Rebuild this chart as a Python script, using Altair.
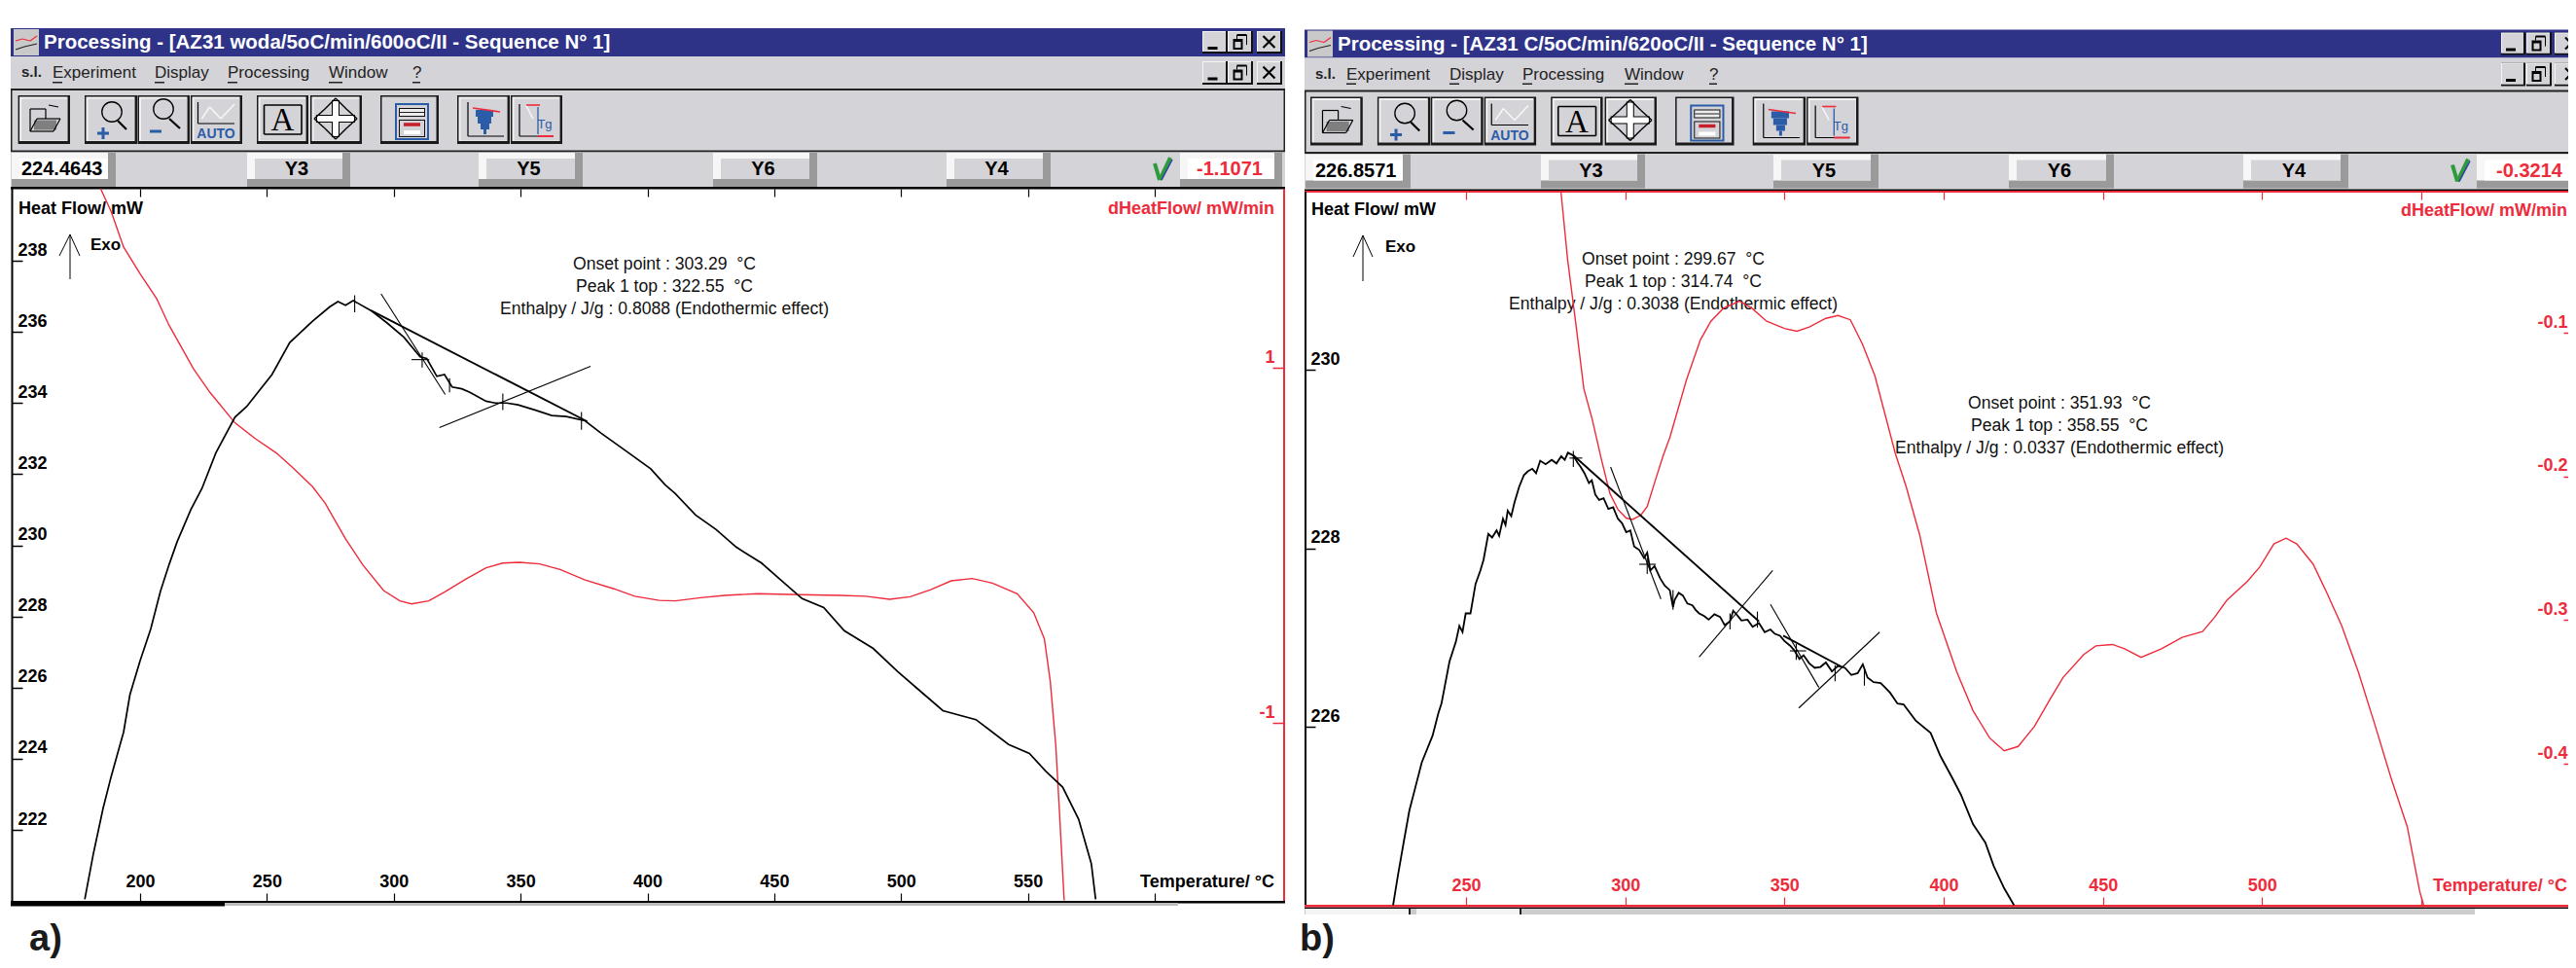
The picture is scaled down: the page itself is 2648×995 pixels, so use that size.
import altair as alt
import pandas as pd

# ---------- data ----------
A_T_HF = [178.2,181.5,185.4,188.6,193.5,196,200,204.2,208,211.4,214.6,220,224.4,229.9,237.4,242,252,259,268,274.7,278,281,284,286,291,297.4,304,310.4,313,317,320,323,326.8,330,336.4,340,344.5,349,355.9,362.3,368,375.4,381.8,391.6,401.3,407,411,419,427,435,445,453,461,469.5,477.6,489,498.7,508.4,516.5,529.5,542.4,550.6,557,563.7,570,575,576.7]
A_HF = [220.05,221.3,222.6,223.5,224.75,225.8,226.75,227.65,228.7,229.45,230.1,231.0,231.6,232.6,233.6,233.9,234.8,235.7,236.3,236.7,236.85,236.75,236.88,236.8,236.6,236.25,235.85,235.3,235.25,234.75,234.8,234.45,234.4,234.3,234.05,234.0,234.0,233.95,233.8,233.65,233.62,233.5,233.15,232.65,232.15,231.7,231.45,230.85,230.45,229.95,229.5,229.0,228.5,228.25,227.6,227.1,226.45,225.85,225.35,225.1,224.4,224.15,223.65,223.2,222.3,221.05,220.05]
A_T_D = [184.4,188.6,193.5,200,206.5,211.4,221,227.6,237.4,245.5,253.7,260,268,273,281,287.8,296,302.4,307,313.8,320,328.5,336.4,343,349.5,357.5,365.6,375.4,386.8,395,404.6,411,421,430.5,443.5,460,476,486,495.5,503.6,511.7,519.8,528,536,545.8,552.3,556.5,558.8,561,562.4,564.3]
A_D = [2.01,1.88,1.68,1.53,1.39,1.24,0.995,0.86,0.69,0.60,0.52,0.44,0.33,0.236,0.036,-0.11,-0.255,-0.313,-0.33,-0.313,-0.264,-0.19,-0.127,-0.10,-0.096,-0.105,-0.136,-0.195,-0.245,-0.287,-0.31,-0.313,-0.295,-0.282,-0.273,-0.278,-0.282,-0.287,-0.304,-0.29,-0.25,-0.2,-0.187,-0.213,-0.273,-0.38,-0.527,-0.764,-1.127,-1.49,-2.0]
A_TAN_T1 = [295,291,318,284.6,343,374,322,311.2,307]
A_TAN_V1 = [237.07,236.6,233.31,237.03,234.27,233.75,234.7,235.42,235.22]
A_TAN_T2 = [320.3,376.3,377.6,284.6,343,374,322,311.2,314]
A_TAN_V2 = [234.24,233.48,235.03,236.55,233.8,233.25,234.3,235.0,235.22]
A_TAN_W = [1.1,1.9,1.1,1.1,1.1,1.1,1.1,1.1,1.1]

B_T_HF = [227.1,228.6,230.4,232.2,234.3,236.1,239.5,241.3,242.3,244.8,246.8,247.9,248.9,249.9,251.4,253,254.5,255.5,257,258.2,259.6,260.4,261.6,262.4,263.1,264.2,265.2,266.7,268.2,269.4,270.8,272,273.3,275,276.9,278.4,279.9,281,282,283.7,285,286,287.2,288.6,289.5,290.6,291.8,293.2,294.7,296.2,297.7,299,300.3,301.6,302.8,304.4,305.9,306.9,307.9,309.2,311,312.4,314,315,315.5,316.8,318.1,319.5,321.1,322.1,323.2,324.8,326.2,328,329.8,331.2,332.9,333.9,334.9,336.5,338.4,340,342,343.8,345.6,347,348.6,350,351.7,353,354.7,356,357.8,359.5,361.3,363,364.9,366.8,369,371,373,374.6,376.1,378,380.2,381.6,383.2,385.5,387.4,391.2,395.9,399,402.8,405.4,409.2,413.1,415.7,419,422.1]
B_HF = [224.0,224.33,224.7,225.06,225.35,225.6,225.9,226.15,226.26,226.73,226.95,227.13,227.06,227.27,227.27,227.6,227.75,227.87,228.16,228.12,228.2,228.14,228.33,228.26,228.42,228.36,228.51,228.69,228.82,228.86,228.89,228.84,228.98,228.94,228.99,228.95,229.03,228.99,229.07,229.04,228.96,228.91,228.84,228.73,228.76,228.6,228.54,228.56,228.44,228.46,228.33,228.28,228.18,228.2,228.02,227.98,227.89,227.95,227.75,227.8,227.66,227.58,227.53,227.34,227.42,227.5,227.47,227.38,227.36,227.31,227.27,227.24,227.2,227.26,227.23,227.14,227.18,227.3,227.26,227.19,227.2,227.12,227.16,227.06,227.09,227.04,227.02,226.96,226.91,226.86,226.76,226.8,226.71,226.66,226.67,226.72,226.62,226.68,226.66,226.58,226.6,226.7,226.55,226.5,226.49,226.44,226.38,226.26,226.25,226.07,225.93,225.67,225.42,225.24,224.91,224.7,224.44,224.19,224.0]
B_T_D = [279.8,281.9,284.5,287,289.6,292.6,295.2,297.7,300.3,302.3,304.9,306.9,309.4,312,314,319.2,323.6,326.9,330.8,335.9,339.8,344.4,350,353.9,357.8,363,366.8,370.7,374.5,378.4,382.2,384.8,388.2,392.5,397.7,404.1,409.2,414.4,419,423.4,428.5,433.7,437.5,444,447.8,453,456.8,462,468.4,474.9,481.3,485.1,489,495.4,499.3,503.7,507.5,510.9,516,519.9,525,530.2,535.3,540.5,545.6,549.5,550.8]
B_D = [-0.0015,-0.049,-0.094,-0.139,-0.16,-0.189,-0.212,-0.223,-0.229,-0.230,-0.227,-0.221,-0.203,-0.185,-0.173,-0.133,-0.105,-0.092,-0.083,-0.078,-0.083,-0.092,-0.097,-0.099,-0.096,-0.09,-0.088,-0.091,-0.108,-0.13,-0.162,-0.184,-0.207,-0.241,-0.295,-0.336,-0.363,-0.382,-0.391,-0.388,-0.374,-0.354,-0.34,-0.324,-0.318,-0.317,-0.32,-0.326,-0.32,-0.312,-0.308,-0.298,-0.286,-0.273,-0.263,-0.247,-0.243,-0.247,-0.261,-0.279,-0.304,-0.336,-0.372,-0.41,-0.444,-0.489,-0.499]
B_TAN_T1 = [283.7,295.4,323.2,304.4,306.9,349.6,345.6,354.5,351.7,353.7,283.7,282.5,315,332.9,341.5,365.9,375.1]
B_TAN_V1 = [229.04,228.91,226.78,227.82,227.89,227.02,227.37,226.21,226.85,226.93,229.09,229.01,227.53,227.27,227.29,226.69,226.66]
B_TAN_T2 = [342,311.2,346.3,309.6,306.9,368,360.8,379.9,356.8,353.7,283.7,286.5,315,332.9,341.5,365.9,375.1]
B_TAN_V2 = [227.18,227.43,227.75,227.82,227.71,226.67,226.44,227.06,226.85,226.75,228.91,229.01,227.31,227.09,227.11,226.51,226.46]
B_TAN_W = [1.9,1.1,1.1,1.1,1.1,1.9,1.1,1.1,1.1,1.1,1.1,1.1,1.1,1.1,1.1,1.1,1.1]

TICKS_A = [200,250,300,350,400,450,500,550,600]
TICKS_B = [250,300,350,400,450,500,550]
HF_TICKS_A = [222,224,226,228,230,232,234,236,238]
HF_TICKS_B = [226,228,230]
D_TICKS_A = [-1,0,1]
D_TICKS_B = [-0.4,-0.3,-0.2,-0.1]

TITLE_A = "Processing - [AZ31 woda/5oC/min/600oC/II - Sequence N° 1]"
TITLE_B = "Processing - [AZ31 C/5oC/min/620oC/II - Sequence N° 1]"
MENU = ["Experiment","Display","Processing","Window","?"]
YBTN = ["Y3","Y5","Y6","Y4"]
ANN_A = ["Onset point : 303.29\u00a0 °C","Peak 1 top : 322.55\u00a0 °C","Enthalpy / J/g : 0.8088 (Endothermic effect)"]
ANN_B1 = ["Onset point : 299.67\u00a0 °C","Peak 1 top : 314.74\u00a0 °C","Enthalpy / J/g : 0.3038 (Endothermic effect)"]
ANN_B2 = ["Onset point : 351.93\u00a0 °C","Peak 1 top : 358.55\u00a0 °C","Enthalpy / J/g : 0.0337 (Endothermic effect)"]

# ---------- canvas ----------
W, H = 2632, 979
NAVY, GRAY, DARK, RED, BLUE = "#2E3388", "#D4D3D7", "#9A9A9A", "#EE2B3B", "#2A5CA8"
FONT = "Liberation Sans"
PXX = alt.Scale(domain=[8, 8 + W], range=[0, W], nice=False, zero=False)
PXY = alt.Scale(domain=[8, 8 + H], range=[0, H], nice=False, zero=False)

rects, segs, txt, circles = [], [], [], []
def R(x, y, x2, y2, c): rects.append(dict(x=x, y=y, x2=x2, y2=y2, c=c))
def S(x, y, x2, y2, c="#000000", w=1.0): segs.append(dict(x=x, y=y, x2=x2, y2=y2, c=c, w=w))
def T(x, y, t, size, c="#000000", align="left", bold=False, font=FONT):
    txt.append(dict(x=x, y=y, t=t, size=size, c=c, align=align, bold=bold, font=font))

def win_btn(x0, x1, y0, y1, glyph):
    R(x0, y0, x1 + 1, y1 + 1, "#111111")
    R(x0, y0, x1 - 1, y1 - 1, "#F4F4F4")
    R(x0 + 1, y0 + 1, x1 - 1, y1 - 1, GRAY)
    cx, cy = (x0 + x1) / 2, (y0 + y1) / 2
    if glyph == "min":
        R(cx - 7, cy + 5, cx + 3, cy + 8, "#000000")
    elif glyph == "res":
        R(cx - 7, cy - 3, cx + 3, cy + 8, "#000000"); R(cx - 5, cy, cx + 1, cy + 6, GRAY)
        S(cx - 3, cy - 7, cx + 7, cy - 7, w=2); S(cx + 7, cy - 7, cx + 7, cy + 3); S(cx - 3, cy - 7, cx - 3, cy - 3)
    else:
        S(cx - 6, cy - 6, cx + 6, cy + 6, w=2.2); S(cx - 6, cy + 6, cx + 6, cy - 6, w=2.2)

def tool_btn(x0, x1, y0, y1, pressed=False):
    R(x0, y0, x1, y1, "#1A1A1A")
    R(x0 + 1.5, y0 + 1.5, x1 - 2.5, y1 - 3, "#F2F2F2" if not pressed else GRAY)
    R(x0 + 3.5, y0 + 3.5, x1 - 3, y1 - 3.5, GRAY)

def status_btn(x0, x1, y0, y1, face):
    R(x0, y0, x1, y1, DARK)
    R(x0, y0, x1 - 8, y1 - 8, "#F6F6F6")
    R(x0 + 8, y0 + 6, x1 - 8, y1 - 8, face)

def window(p):
    x0, x1, dy = p["x0"], p["x1"], p["dy"]
    X = lambda v: p["bx0"] + (v - 18.6) * p["bs"]
    Y = lambda v: v + dy
    R(x0, 29 + dy, x1, 58 + dy, NAVY)
    R(x0, 58 + dy, x1, 193 + dy, GRAY)
    R(x0, 91 + dy, x1, 93 + dy, "#222222")
    R(x0, 154.5 + dy, x1, 156.5 + dy, "#222222")
    R(x0, 92 + dy, x0 + 1.5, 156 + dy, "#222222")
    R(x1 - 1.5, 92 + dy, x1, 156 + dy, "#222222")
    R(x0 + 3, 30 + dy, x0 + 29, 57 + dy, "#C9C9C9")
    S(x0 + 5, 42 + dy, x0 + 12, 40 + dy, RED, 1.2); S(x0 + 12, 40 + dy, x0 + 20, 42 + dy, RED, 1.2); S(x0 + 20, 42 + dy, x0 + 27, 37 + dy, RED, 1.2)
    S(x0 + 5, 51 + dy, x0 + 14, 48 + dy, "#222222", 1.2); S(x0 + 14, 48 + dy, x0 + 27, 45 + dy, "#222222", 1.2)
    T(x0 + 34, 44 + dy, p["title"], 20.5, "#FFFFFF", bold=True)
    for (a, b), g in zip(p["wbtn"], ["min", "res", "x"]):
        win_btn(a, b, 32 + dy, 54 + dy, g)
        win_btn(a, b, 63 + dy, 86 + dy, g)
    T(x0 + 11, 74 + dy, "s.l.", 15, "#222222", bold=True)
    for (mx, wid), t in zip(p["menu"], MENU):
        T(mx, 75 + dy, t, 17, "#222222")
        R(mx, 84 + dy, mx + wid, 85.5 + dy, "#222222")
    for a, b, pr in [(18.6,72,0),(87,141,0),(141.5,195,0),(196,249,0),(264,317,0),(319,372,0),(391,451,1),(470,524,0),(525,578,0)]:
        tool_btn(X(a), X(b), Y(98), Y(148), bool(pr))
    def L(xa, ya, xb, yb, c="#000000", w=1.2): S(X(xa), Y(ya), X(xb), Y(yb), c, w)
    L(35, 128.5, 58, 128.5, "#7F7F7F", 10)
    L(31, 135, 38, 122); L(38, 122, 62, 122); L(62, 122, 55, 135); L(55, 135, 31, 135)
    L(31, 135, 31, 112); L(31, 112, 47, 112); L(47, 112, 47, 122); L(50, 108, 60, 110)
    circles.append(dict(x=X(115), y=Y(115), s=420)); L(121, 124, 130, 133, w=2.2)
    L(100, 137, 112, 137, BLUE, 3); L(106, 131, 106, 143, BLUE, 3)
    circles.append(dict(x=X(168), y=Y(112), s=420)); L(174, 122, 185, 132, w=2.2)
    L(154, 135, 166, 135, BLUE, 3)
    L(203.5, 105, 203.5, 127); L(203.5, 127, 241, 127)
    L(207.5, 122, 215.5, 110, "#F7F7F7", 1.5); L(215.5, 110, 227, 122, "#F7F7F7", 1.5); L(227, 122, 241, 107, "#F7F7F7", 1.5)
    T(X(222), Y(138), "AUTO", 14, BLUE, "center", True)
    L(271.5, 108, 310, 108, w=1.6); L(310, 108, 310, 138, w=1.6); L(310, 138, 271.5, 138, w=1.6); L(271.5, 138, 271.5, 108, w=1.6)
    T(X(290.5), Y(124), "A", 33, "#000000", "center", False, "Liberation Serif")
    L(325, 122, 365, 122, w=8); L(345, 103, 345, 141, w=8)
    L(326, 122, 364, 122, "#FFFFFF", 6); L(345, 104, 345, 140, "#FFFFFF", 6)
    for a, b, c, d in [(345,101,334,112),(345,101,356,112),(345,143,334,132),(345,143,356,132),(323,122,334,112),(323,122,334,132),(367,122,356,112),(367,122,356,132)]:
        L(a, b, c, d, w=1.4)
    R(X(406), Y(106), X(441), Y(144), BLUE); R(X(408), Y(108), X(439), Y(142), GRAY)
    R(X(410), Y(111), X(437), Y(120), "#111111"); R(X(411), Y(112), X(436), Y(119), "#EDEDED"); L(411, 115.5, 436, 115.5, "#222222", 1)
    R(X(410), Y(123), X(437), Y(141), "#111111"); R(X(411), Y(124), X(436), Y(140), GRAY)
    L(415, 128, 432, 128, "#C81E28", 3.5); L(415, 136, 432, 136, "#FFFFFF", 4)
    L(481, 105, 481, 140); L(481, 140, 518, 140)
    for a, b, c, d in [(489,113,507,120),(491,120,505,127),(494,127,503,133),(497,133,500,138)]:
        R(X(a), Y(b), X(c), Y(d), BLUE)
    L(486, 111, 514, 115, RED, 1.6)
    L(534, 107, 534, 140); L(534, 140, 569, 140)
    L(541, 108, 555, 108, RED, 1.6); L(553, 140, 569, 140, RED, 2)
    L(553, 110, 553, 138, BLUE, 1.3); L(541, 109, 548, 122, "#F7F7F7", 1.5)
    T(X(560), Y(128), "Tg", 13, BLUE, "center")
    R(x0, 156.5 + dy, x1, 192 + dy, GRAY)
    status_btn(*p["val"], 157 + dy, 192 + dy, "#FFFFFF")
    T(p["val"][0] + 10, 174 + dy, p["left"], 20, bold=True)
    for (a, b), t in zip(p["ybtn"], YBTN):
        status_btn(a, b, 157 + dy, 192 + dy, GRAY)
        T((a + b) / 2 - 2, 174 + dy, t, 20, "#000000", "center", True)
    ck = p["ck"]
    S(ck, 168 + dy, ck + 5, 185 + dy, "#2D9A3C", 4); S(ck + 5, 185 + dy, ck + 16, 162 + dy, "#2D9A3C", 4)
    S(ck + 7, 185 + dy, ck + 18, 164 + dy, "#2B3FA0", 1.6)
    status_btn(p["rv"], p["rv2"], 157 + dy, 192 + dy, "#FFFFFF")
    T(p["rvx"], 174 + dy, p["right"], 20, RED, "center", True)

window(dict(x0=11, x1=1321, dy=0, title=TITLE_A, bx0=18.6, bs=1.0,
            wbtn=[(1236,1261),(1262,1287),(1292,1317)],
            menu=[(54,10),(159,10),(234,10),(338,14),(424,8)],
            val=(12,119), ybtn=[(254,360),(492,599),(733,840),(973,1080)], left="224.4643",
            ck=1187, rv=1213, rv2=1318, rvx=1264, right="-1.1071"))
window(dict(x0=1341, x1=2660, dy=1.5, title=TITLE_B, bx0=1347, bs=1.0073,
            wbtn=[(2571,2595),(2597,2622),(2626,2660)],
            menu=[(1384,10),(1490,10),(1565,10),(1670,14),(1757,8)],
            val=(1342,1450), ybtn=[(1584,1691),(1823,1931),(2065,2173),(2306,2414)], left="226.8571",
            ck=2521, rv=2546, rv2=2656, rvx=2600, right="-0.3214"))

R(11, 192, 1321, 194.5, "#000000")
R(11.5, 193, 13.5, 927, "#000000")
R(1319, 194, 1321, 927, RED)
R(11, 926, 1321, 928.5, "#000000")
R(11, 928, 1211, 931, "#BDBDBD")
R(11, 928, 231, 931.5, "#000000")
R(1341, 194.5, 2660, 196, "#000000")
R(1341, 196, 2660, 198, RED)
R(1341, 197, 1343, 931, "#000000")
R(1341, 932.5, 2660, 934, "#000000")
R(1341, 930, 2660, 932.5, RED)
R(1341, 934, 2544, 940, "#CCCCCC")
R(1342, 934, 1448, 940, "#F4F4F4"); R(1456, 934, 1562, 940, "#F4F4F4")
R(1448, 934, 1450, 940, "#222222"); R(1562, 934, 1564, 940, "#222222")

T(19, 215, "Heat Flow/ mW", 18, bold=True)
T(1310, 215, "dHeatFlow/ mW/min", 18, RED, "right", True)
T(93, 252, "Exo", 17, bold=True)
T(1310, 907, "Temperature/ °C", 18, "#000000", "right", True)
T(1348, 216, "Heat Flow/ mW", 18, bold=True)
T(2639, 217, "dHeatFlow/ mW/min", 18, RED, "right", True)
T(1424, 254, "Exo", 17, bold=True)
T(2639, 911, "Temperature/ °C", 18, RED, "right", True)
S(72, 241, 72, 287); S(72, 241, 61, 263); S(72, 241, 82, 263)
S(1401, 242, 1401, 289); S(1401, 242, 1391, 264); S(1401, 242, 1411, 264)
for t, y in zip(ANN_A, [272, 295, 318]): T(683, y, t, 17.6, "#111111", "center")
for t, y in zip(ANN_B1, [267, 290, 313]): T(1720, y, t, 17.6, "#111111", "center")
for t, y in zip(ANN_B2, [415, 438, 461]): T(2117, y, t, 17.6, "#111111", "center")
T(30, 966, "a)", 38, "#1A1A1A", "left", True)
T(1336, 966, "b)", 38, "#1A1A1A", "left", True)

# ---------- layers ----------
def rect_layer(df):
    return alt.Chart(df).mark_rect().encode(
        x=alt.X("x:Q", scale=PXX, axis=None), x2="x2:Q",
        y=alt.Y("y:Q", scale=PXY, axis=None), y2="y2:Q",
        color=alt.Color("c:N", scale=None))

def seg_layer(df):
    return alt.Chart(df).mark_rule().encode(
        x=alt.X("x:Q", scale=PXX, axis=None), x2="x2:Q",
        y=alt.Y("y:Q", scale=PXY, axis=None), y2="y2:Q",
        color=alt.Color("c:N", scale=None),
        strokeWidth=alt.StrokeWidth("w:Q", scale=None))

def text_layers(df):
    out = []
    for (al, bo, fo), g in df.groupby(["align", "bold", "font"]):
        out.append(alt.Chart(g).mark_text(align=al, baseline="middle", font=fo,
                                          fontWeight="bold" if bo else "normal").encode(
            x=alt.X("x:Q", scale=PXX, axis=None),
            y=alt.Y("y:Q", scale=PXY, axis=None),
            text="t:N",
            size=alt.Size("size:Q", scale=None),
            color=alt.Color("c:N", scale=None)))
    return out

def axis(color, orient, offset, values, size=10, pad=3, labels=True, lo=0, expr=None, fmt=None, tw=1.5):
    kw = dict(orient=orient, offset=offset, values=values, title=None, grid=False, domain=False,
              tickColor=color, tickSize=size, tickWidth=tw, labels=labels, labelColor=color,
              labelFont=FONT, labelFontSize=18, labelFontWeight="bold", labelPadding=pad,
              labelOffset=lo, labelOverlap=False, labelFlush=False, labelBound=False)
    if fmt:
        kw["format"] = fmt
    if expr:
        kw["labelExpr"] = expr
    return alt.Axis(**kw)

MINUS = "replace(datum.label, '\u2212', '-')"

def curve(t, v, xs, ys, color, sw, xaxis, yaxis):
    d = pd.DataFrame({"T": t, "V": v})
    return alt.Chart(d).mark_line(color=color, strokeWidth=sw).encode(
        x=alt.X("T:Q", scale=xs, axis=xaxis),
        y=alt.Y("V:Q", scale=ys, axis=yaxis))

def tans(t1, v1, t2, v2, ws, xs, ys):
    d = pd.DataFrame({"a": t1, "b": v1, "a2": t2, "b2": v2, "w": ws})
    return alt.Chart(d).mark_rule(color="#000000").encode(
        x=alt.X("a:Q", scale=xs, axis=None), x2="a2:Q",
        y=alt.Y("b:Q", scale=ys, axis=None), y2="b2:Q",
        strokeWidth=alt.StrokeWidth("w:Q", scale=None))

def sc(dom, rng):
    return alt.Scale(domain=dom, range=rng, nice=False, zero=False)

XA = sc([200, 600], [144 - 8, 1187 - 8])
YA = sc([222, 238], [853 - 8, 268 - 8])
DA = sc([-1, 1], [743 - 8, 378 - 8])
XB = sc([250, 550], [1507 - 8, 2489 - 8])
YB = sc([226, 230], [747 - 8, 380 - 8])
DB = sc([-0.4, -0.1], [785 - 8, 342 - 8])

layers = [rect_layer(pd.DataFrame(rects))]
layers.append(seg_layer(pd.DataFrame(segs)))
layers.append(alt.Chart(pd.DataFrame(circles)).mark_point(color="#000000", strokeWidth=1.3, filled=False, opacity=1).encode(
    x=alt.X("x:Q", scale=PXX, axis=None), y=alt.Y("y:Q", scale=PXY, axis=None), size=alt.Size("s:Q", scale=None)))
layers += text_layers(pd.DataFrame(txt))

layers.append(curve(A_T_D, A_D, XA, DA, RED, 1.4,
                    axis("#000000", "bottom", 194 - 8 - H, TICKS_A, size=8, labels=False, tw=1.2),
                    axis(RED, "left", -(1320 - 8), D_TICKS_A, size=12, pad=-2, lo=-11, fmt="d", expr=MINUS)))
layers.append(curve(A_T_HF, A_HF, XA, YA, "#000000", 1.7,
                    axis("#000000", "top", -(927 - 8), TICKS_A, size=9, pad=3, tw=1.2, expr="datum.value == 600 ? '' : datum.label"),
                    axis("#000000", "right", 4 - W, HF_TICKS_A, size=11, pad=-5, lo=-11)))
layers.append(tans(A_TAN_T1, A_TAN_V1, A_TAN_T2, A_TAN_V2, A_TAN_W, XA, YA))

layers.append(curve(B_T_D, B_D, XB, DB, RED, 1.4,
                    axis(RED, "top", -(931 - 8), TICKS_B, size=9, pad=3, tw=1.2, expr="datum.value == 550 ? '' : datum.label"),
                    axis(RED, "left", -(2645 - 8), D_TICKS_B, size=10, pad=-4, lo=-11, fmt=".1f", expr=MINUS)))
layers.append(curve(B_T_HF, B_HF, XB, YB, "#000000", 1.8,
                    axis(RED, "bottom", 197 - 8 - H, TICKS_B, size=8, labels=False, tw=1.2),
                    axis("#000000", "right", 1341 - 8 - W, HF_TICKS_B, size=11, pad=-5, lo=-11)))
layers.append(tans(B_TAN_T1, B_TAN_V1, B_TAN_T2, B_TAN_V2, B_TAN_W, XB, YB))

chart = alt.layer(*layers).resolve_scale(
    x="independent", y="independent", color="independent", size="independent", strokeWidth="independent"
).properties(width=W, height=H, padding=0, background="#FFFFFF",
             autosize=alt.AutoSizeParams(type="none")).configure_view(strokeWidth=0, stroke="transparent")
chart.save("out.html", embed_options={"renderer": "svg", "actions": False})
